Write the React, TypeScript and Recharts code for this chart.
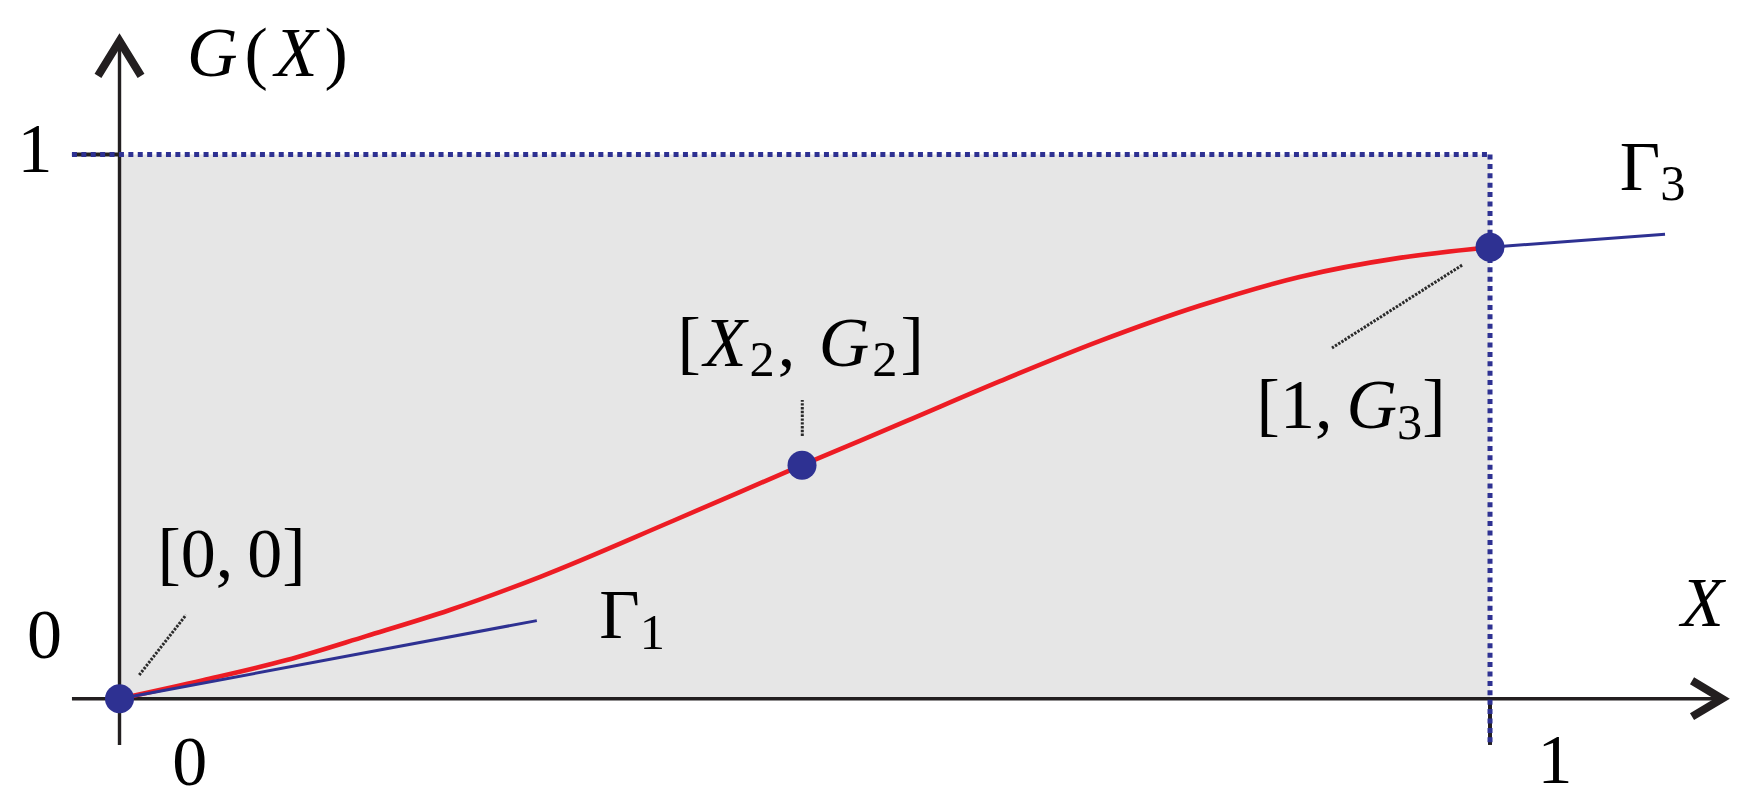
import {
  ComposedChart,
  Line,
  ReferenceArea,
  ReferenceDot,
  ReferenceLine,
  Scatter,
  XAxis,
  YAxis,
} from "recharts";

// red curve G(X)
const curveX = [0, 0.061, 0.122, 0.18, 0.241, 0.307, 0.404, 0.498, 0.574, 0.643, 0.715, 0.788, 0.861, 0.934, 1];
const curveG = [0, 0.034, 0.071, 0.115, 0.163, 0.224, 0.327, 0.429, 0.51, 0.584, 0.657, 0.722, 0.775, 0.81, 0.8295];

// knots [0,0], [X2,G2], [1,G3]
const knotX = [0, 0.498, 1];
const knotG = [0, 0.429, 0.8295];

// tangents Γ1 and Γ3
const gamma1X = [0, 0.3045];
const gamma1G = [0, 0.1435];
const gamma3X = [1, 1.1277];
const gamma3G = [0.8295, 0.8534];

const X_DOMAIN: [number, number] = [-0.0872, 1.1897];
const Y_DOMAIN: [number, number] = [-0.1935, 1.2839];

const AXIS = "#231f20";
const BLUE = "#2e3192";
const RED = "#ed1c24";
const FONT = "'Liberation Serif', 'Times New Roman', serif";
const SIZE = 70;

type Part = { t: string; i?: boolean; sub?: boolean };

const toRows = (xs: number[], gs: number[]) => xs.map((x, k) => ({ x, g: gs[k] }));

const curve = toRows(curveX, curveG);
const knots = toRows(knotX, knotG);
const gamma1 = toRows(gamma1X, gamma1G);
const gamma3 = toRows(gamma3X, gamma3G);

// axis arrowheads
const yArrow = [
  { x: -0.0157, g: 1.1443 },
  { x: 0, g: 1.2086 },
  { x: 0.0157, g: 1.1443 },
];
const xArrow = [
  { x: 1.1474, g: 0.033 },
  { x: 1.1693, g: 0 },
  { x: 1.1474, g: -0.033 },
];

const labels: { x: number; y: number; parts: Part[]; spacing?: number }[] = [
  { x: 0.1105, y: 1.1443, spacing: 7, parts: [{ t: "G", i: true }, { t: "(" }, { t: "X", i: true }, { t: ")" }] },
  { x: -0.0617, y: 0.968, parts: [{ t: "1" }] },
  { x: -0.0547, y: 0.0748, parts: [{ t: "0" }] },
  { x: 0.0512, y: -0.1586, parts: [{ t: "0" }] },
  { x: 1.0474, y: -0.155, parts: [{ t: "1" }] },
  { x: 1.155, y: 0.1336, parts: [{ t: "X", i: true }] },
  { x: 0.374, y: 0.111, parts: [{ t: "Γ" }, { t: "1", sub: true }] },
  { x: 1.1186, y: 0.9348, parts: [{ t: "Γ" }, { t: "3", sub: true }] },
  { x: 0.0817, y: 0.2242, parts: [{ t: "[0," }, { t: "\u2009" }, { t: "0]" }] },
  {
    x: 0.4981,
    y: 0.6114,
    spacing: 3,
    parts: [{ t: "[" }, { t: "X", i: true }, { t: "2", sub: true }, { t: ", " }, { t: "G", i: true }, { t: "2", sub: true }, { t: "]" }],
  },
  {
    x: 0.8986,
    y: 0.4974,
    parts: [{ t: "[1," }, { t: "\u2009" }, { t: "G", i: true }, { t: "3", sub: true }, { t: "]" }],
  },
];

// dotted leader lines from labels to knots
const leaders = [
  [{ x: 0.0144, y: 0.0435 }, { x: 0.0485, y: 0.1538 }],
  [{ x: 0.4982, y: 0.4827 }, { x: 0.4982, y: 0.5489 }],
  [{ x: 0.9796, y: 0.7967 }, { x: 0.8847, y: 0.6445 }],
];

function MathText({ cx, cy, parts, spacing = 0 }: { cx?: number; cy?: number; parts: Part[]; spacing?: number }) {
  if (cx == null || cy == null) return null;
  const subSize = SIZE * 0.72;
  const shift = SIZE * 0.15;
  let down = false;
  return (
    <text
      x={cx}
      y={cy}
      textAnchor="middle"
      fontFamily={FONT}
      fontSize={SIZE}
      letterSpacing={spacing}
      fill="#000"
    >
      {parts.map((p, k) => {
        let dy = 0;
        if (p.sub && !down) {
          dy = shift;
          down = true;
        } else if (!p.sub && down) {
          dy = -shift;
          down = false;
        }
        return (
          <tspan key={k} dy={dy} fontStyle={p.i ? "italic" : "normal"} fontSize={p.sub ? subSize : SIZE}>
            {p.t}
          </tspan>
        );
      })}
    </text>
  );
}

export default function App() {
  return (
    <div style={{ position: "absolute", left: 0, top: 0, background: "#fff" }}>
      <ComposedChart width={1750} height={804} margin={{ top: 0, right: 0, bottom: 0, left: 0 }}>
        <XAxis dataKey="x" type="number" domain={X_DOMAIN} allowDataOverflow hide />
        <YAxis dataKey="g" type="number" domain={Y_DOMAIN} allowDataOverflow hide />

        <ReferenceArea x1={0} x2={1} y1={0} y2={1} fill="#e6e6e6" fillOpacity={1} stroke="none" />

        {/* axes and ticks */}
        <ReferenceLine segment={[{ x: -0.0347, y: 0 }, { x: 1.165, y: 0 }]} stroke={AXIS} strokeWidth={3.4} />
        <ReferenceLine segment={[{ x: 0, y: -0.085 }, { x: 0, y: 1.2 }]} stroke={AXIS} strokeWidth={3.4} />
        <ReferenceLine segment={[{ x: -0.0347, y: 1 }, { x: 0, y: 1 }]} stroke={AXIS} strokeWidth={4} />
        <ReferenceLine segment={[{ x: 1, y: 0 }, { x: 1, y: -0.085 }]} stroke={AXIS} strokeWidth={4} />

        {/* dotted box G=1, X=1 */}
        <ReferenceLine
          segment={[{ x: -0.0347, y: 1 }, { x: 1, y: 1 }]}
          stroke={BLUE}
          strokeWidth={5}
          strokeDasharray="5 4.4"
        />
        <ReferenceLine
          segment={[{ x: 1, y: 1 }, { x: 1, y: -0.085 }]}
          stroke={BLUE}
          strokeWidth={5}
          strokeDasharray="5 4.4"
        />

        {leaders.map((seg, k) => (
          <ReferenceLine key={k} segment={seg} stroke="#2a2a2a" strokeWidth={3} strokeDasharray="2.4 1.4" />
        ))}

        <Line
          data={yArrow}
          dataKey="g"
          type="linear"
          stroke={AXIS}
          strokeWidth={8}
          strokeLinejoin="miter"
          dot={false}
          activeDot={false}
          isAnimationActive={false}
        />
        <Line
          data={xArrow}
          dataKey="g"
          type="linear"
          stroke={AXIS}
          strokeWidth={8}
          strokeLinejoin="miter"
          dot={false}
          activeDot={false}
          isAnimationActive={false}
        />

        <Line
          data={curve}
          dataKey="g"
          type="monotone"
          stroke={RED}
          strokeWidth={4.6}
          dot={false}
          activeDot={false}
          isAnimationActive={false}
        />
        <Line data={gamma1} dataKey="g" type="linear" stroke={BLUE} strokeWidth={3} dot={false} activeDot={false} isAnimationActive={false} />
        <Line data={gamma3} dataKey="g" type="linear" stroke={BLUE} strokeWidth={3} dot={false} activeDot={false} isAnimationActive={false} />

        <Scatter
          data={knots}
          dataKey="g"
          isAnimationActive={false}
          shape={(p: any) => <circle cx={p.cx} cy={p.cy} r={14.5} fill={BLUE} />}
        />

        {labels.map((l, k) => (
          <ReferenceDot
            key={k}
            x={l.x}
            y={l.y}
            r={0}
            shape={(p: any) => <MathText cx={p.cx} cy={p.cy} parts={l.parts} spacing={l.spacing} />}
          />
        ))}
      </ComposedChart>
    </div>
  );
}
